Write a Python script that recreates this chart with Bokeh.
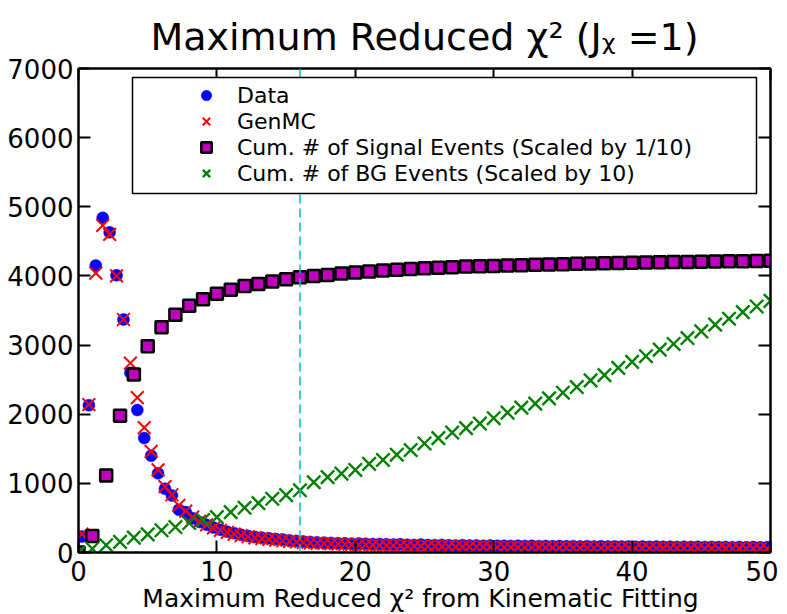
from bokeh.plotting import figure
from bokeh.models import (LinearAxis, Legend, LegendItem, Span, FixedTicker,
                          CustomJSTickFormatter, Range1d, ColumnDataSource,
                          BoxAnnotation)
from bokeh.embed import file_html
from bokeh.resources import INLINE

# ---------------- data ----------------
data_x = [0.25 + 0.5 * i for i in range(100)]
data_y = [230, 2130, 4150, 4840, 4630, 4010, 3370, 2600, 2060, 1655,
          1400, 1145, 921, 824, 619, 584, 495, 440, 400, 360,
          330, 300, 280, 255, 240, 225, 215, 205, 195, 188,
          175, 165, 158, 152, 146, 142, 138, 135, 132, 128,
          130, 125, 122, 124, 118, 115, 119, 112, 110, 114,
          108, 106, 110, 104, 102, 106, 100, 103, 98, 101,
          97, 99, 95, 98, 94, 96, 92, 95, 91, 93,
          90, 92, 88, 91, 87, 89, 86, 88, 85, 87,
          84, 86, 83, 85, 82, 84, 81, 83, 80, 82,
          79, 81, 78, 80, 77, 79, 76, 78, 75, 77]
genmc_y = [265, 2140, 4040, 4730, 4600, 4000, 3370, 2740, 2240, 1807,
           1462, 1194, 954, 835, 681, 599, 513, 450, 400, 355,
           320, 290, 265, 245, 228, 212, 200, 190, 180, 170,
           160, 152, 145, 140, 134, 130, 126, 122, 118, 115,
           112, 109, 106, 104, 101, 99, 97, 95, 93, 91,
           89, 88, 86, 85, 83, 82, 81, 80, 78, 77,
           76, 75, 74, 73, 72, 71, 71, 70, 69, 68,
           68, 67, 66, 66, 65, 65, 64, 64, 63, 63,
           62, 62, 61, 61, 60, 60, 60, 59, 59, 58,
           58, 58, 57, 57, 57, 56, 56, 56, 55, 55]

cum_x = list(range(51))
cum_signal = [0, 239, 1112, 1976, 2576, 2983, 3256, 3439, 3568, 3663,
              3741, 3799, 3856, 3885, 3918, 3951, 3980, 4000, 4015, 4035,
              4050, 4065, 4080, 4090, 4100, 4110, 4120, 4125, 4135, 4140,
              4145, 4150, 4155, 4160, 4165, 4170, 4175, 4180, 4185, 4188,
              4192, 4195, 4198, 4200, 4203, 4206, 4208, 4211, 4214, 4216,
              4220]
cum_bg = [0, 55, 105, 153, 216, 263, 321, 368, 426, 470,
          512, 584, 647, 714, 777, 830, 900, 1016, 1090, 1140,
          1194, 1281, 1338, 1414, 1482, 1577, 1655, 1735, 1799, 1865,
          1942, 2023, 2095, 2153, 2230, 2311, 2393, 2489, 2565, 2671,
          2757, 2839, 2935, 3016, 3102, 3199, 3295, 3381, 3476, 3558,
          3640]

cut_value = 16
x_ticks = [0, 10, 20, 30, 40, 50]
y_ticks = [0, 1000, 2000, 3000, 4000, 5000, 6000, 7000]

title_text = "Maximum Reduced \u03c7\u00b2 (J\u1d6a =1)"
xlabel_text = "Maximum Reduced \u03c7\u00b2  from Kinematic Fitting"
legend_labels = ["Data", "GenMC", "Cum. # of Signal Events (Scaled by 1/10)",
                 "Cum. # of BG Events (Scaled by 10)"]

FONT = "DejaVu Sans"

# ---------------- figure ----------------
p = figure(frame_width=692, frame_height=484,
           x_range=Range1d(0, 50), y_range=Range1d(0, 7000),
           output_backend="svg", toolbar_location=None,
           min_border_left=78, min_border_right=8, min_border_top=68,
           min_border_bottom=10, title=title_text)
p.title.text_font = FONT
p.title.text_font_size = "38px"
p.title.text_font_style = "normal"
p.title.text_color = "black"
p.title.align = "center"
p.title.standoff = 19

p.xgrid.visible = False
p.ygrid.visible = False
p.outline_line_color = "black"
p.outline_line_width = 2
p.outline_line_alpha = 1
p.background_fill_color = "white"
p.border_fill_color = "white"

for ax in (p.xaxis[0], p.yaxis[0]):
    ax.major_tick_in = 12
    ax.major_tick_out = 0
    ax.minor_tick_in = 0
    ax.minor_tick_out = 0
    ax.axis_line_width = 2
    ax.major_tick_line_width = 2
    ax.major_label_text_font = FONT
    ax.major_label_text_font_size = "26px"
    ax.major_label_text_color = "black"

p.xaxis[0].ticker = FixedTicker(ticks=x_ticks)
p.yaxis[0].ticker = FixedTicker(ticks=y_ticks)
p.xaxis[0].major_label_standoff = 8
p.yaxis[0].major_label_standoff = 5
p.xaxis[0].axis_label = xlabel_text
p.xaxis[0].axis_label_text_font = FONT
p.xaxis[0].axis_label_text_font_size = "25px"
p.xaxis[0].axis_label_text_font_style = "normal"
p.xaxis[0].axis_label_text_color = "black"
p.xaxis[0].axis_label_standoff = 0

blank = CustomJSTickFormatter(code="return ''")
top_axis = LinearAxis(ticker=FixedTicker(ticks=x_ticks), formatter=blank,
                      major_tick_in=12, major_tick_out=0, minor_tick_in=0,
                      minor_tick_out=0, major_tick_line_width=2,
                      axis_line_width=2, major_label_text_font_size="1px",
                      major_label_standoff=0)
right_axis = LinearAxis(ticker=FixedTicker(ticks=y_ticks), formatter=blank,
                        major_tick_in=12, major_tick_out=0, minor_tick_in=0,
                        minor_tick_out=0, major_tick_line_width=2,
                        axis_line_width=2, major_label_text_font_size="1px",
                        major_label_standoff=0)
p.add_layout(top_axis, "above")
p.add_layout(right_axis, "right")

# ---------------- glyphs ----------------
src_d = ColumnDataSource(dict(x=data_x, d=data_y, g=genmc_y))
src_c = ColumnDataSource(dict(x=cum_x, s=cum_signal, b=cum_bg))

r_data = p.scatter("x", "d", source=src_d, marker="circle", size=12,
                   fill_color="#0000ff", line_color="#0000ff", line_width=0.5)
r_gen = p.scatter("x", "g", source=src_d, marker="x", size=18,
                  line_color="#ff0000", line_width=2)
r_sig = p.scatter("x", "s", source=src_c, marker="square", size=12,
                  fill_color="#bf00bf", line_color="black", line_width=2.5)
r_bg = p.scatter("x", "b", source=src_c, marker="x", size=19,
                 line_color="#008000", line_width=2.4)

span = Span(location=cut_value, dimension="height", line_color="#00bfbf",
            line_dash="9 5", line_width=1.5)
p.add_layout(span)

# legend frame (screen units, relative to plot frame)
legend_box = BoxAnnotation(left=54, right=678, top=475, bottom=359,
                           left_units="screen", right_units="screen",
                           top_units="screen", bottom_units="screen",
                           fill_color="white", fill_alpha=1,
                           line_color="black", line_width=1.5, line_alpha=1)
p.add_layout(legend_box)

legend = Legend(items=[LegendItem(label=legend_labels[0], renderers=[r_data]),
                       LegendItem(label=legend_labels[1], renderers=[r_gen]),
                       LegendItem(label=legend_labels[2], renderers=[r_sig]),
                       LegendItem(label=legend_labels[3], renderers=[r_bg])],
                location=(113, 366), orientation="vertical")
legend.padding = 0
legend.spacing = 0
legend.margin = 0
legend.glyph_width = 30
legend.glyph_height = 26
legend.label_height = 26
legend.label_standoff = 16
legend.label_text_font = FONT
legend.label_text_font_size = "22px"
legend.label_text_color = "black"
legend.border_line_color = None
legend.background_fill_alpha = 0
p.add_layout(legend)

open("out.html", "w").write(file_html(p, INLINE))
